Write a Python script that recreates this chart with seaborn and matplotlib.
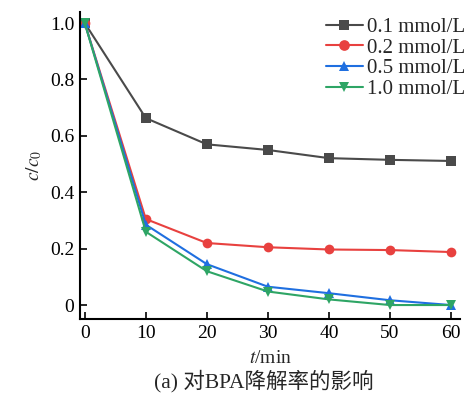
import matplotlib
matplotlib.use("Agg")
import matplotlib.pyplot as plt
import seaborn as sns
import pandas as pd

t_min = [0, 10, 20, 30, 40, 50, 60]
series_labels = ["0.1 mmol/L", "0.2 mmol/L", "0.5 mmol/L", "1.0 mmol/L"]
c01 = [1.0, 0.663, 0.570, 0.550, 0.521, 0.515, 0.511]
c02 = [1.0, 0.305, 0.220, 0.205, 0.197, 0.195, 0.188]
c05 = [1.0, 0.285, 0.145, 0.065, 0.042, 0.017, 0.0]
c10 = [1.0, 0.260, 0.120, 0.048, 0.020, 0.0, 0.0]
yticks = [0, 0.2, 0.4, 0.6, 0.8, 1.0]
ytick_labels = ["0", "0.2", "0.4", "0.6", "0.8", "1.0"]
xticks = [0, 10, 20, 30, 40, 50, 60]
caption = "(a) 对BPA降解率的影响"

colors = ["#4a4a4a", "#e8413f", "#1f6fe0", "#2ea565"]
markers = ["s", "o", "^", "v"]

sns.set_style("ticks")
plt.rcParams["font.family"] = ["Liberation Serif", "Noto Sans CJK SC"]
plt.rcParams["mathtext.fontset"] = "stix"

fig = plt.figure(figsize=(4.7, 3.94), dpi=100)
ax = fig.add_axes([0.170, 0.190, 0.809, 0.780])

frames = []
for lab, vals in zip(series_labels, [c01, c02, c05, c10]):
    frames.append(pd.DataFrame({"t": t_min, "c": vals, "conc": lab}))
df = pd.concat(frames, ignore_index=True)

for lab, col, mk in zip(series_labels, colors, markers):
    sub = df[df["conc"] == lab]
    sns.lineplot(data=sub, x="t", y="c", ax=ax, color=col, marker=mk,
                 markersize=7, markeredgewidth=0, linewidth=1.5, label=lab)

ax.set_xlim(-0.8, 61.5)
ax.set_ylim(-0.05, 1.04)
ax.set_xticks(xticks)
ax.set_yticks(yticks)
ax.set_yticklabels(ytick_labels)
ax.tick_params(direction="in", length=5, width=1.2, labelsize=14, colors="black", pad=4)
for s in ["top", "right"]:
    ax.spines[s].set_visible(False)
for s in ["left", "bottom"]:
    ax.spines[s].set_linewidth(1.5)
    ax.spines[s].set_color("black")

ax.set_xlabel(r"$t$/min", fontsize=14, labelpad=6)
ax.set_ylabel(r"$c/c_0$", fontsize=14, labelpad=4)

leg = ax.legend(loc="upper right", bbox_to_anchor=(1.047, 1.022), frameon=False,
                fontsize=15, handlelength=1.8, handletextpad=0.2, labelspacing=0.05,
                borderaxespad=0.2, markerscale=1.1)

fig.text(0.562, 0.003, caption, ha="center", va="bottom", fontsize=15.5,
         family=["Liberation Serif", "Noto Sans CJK SC"])

fig.savefig("out.png", dpi=100)
